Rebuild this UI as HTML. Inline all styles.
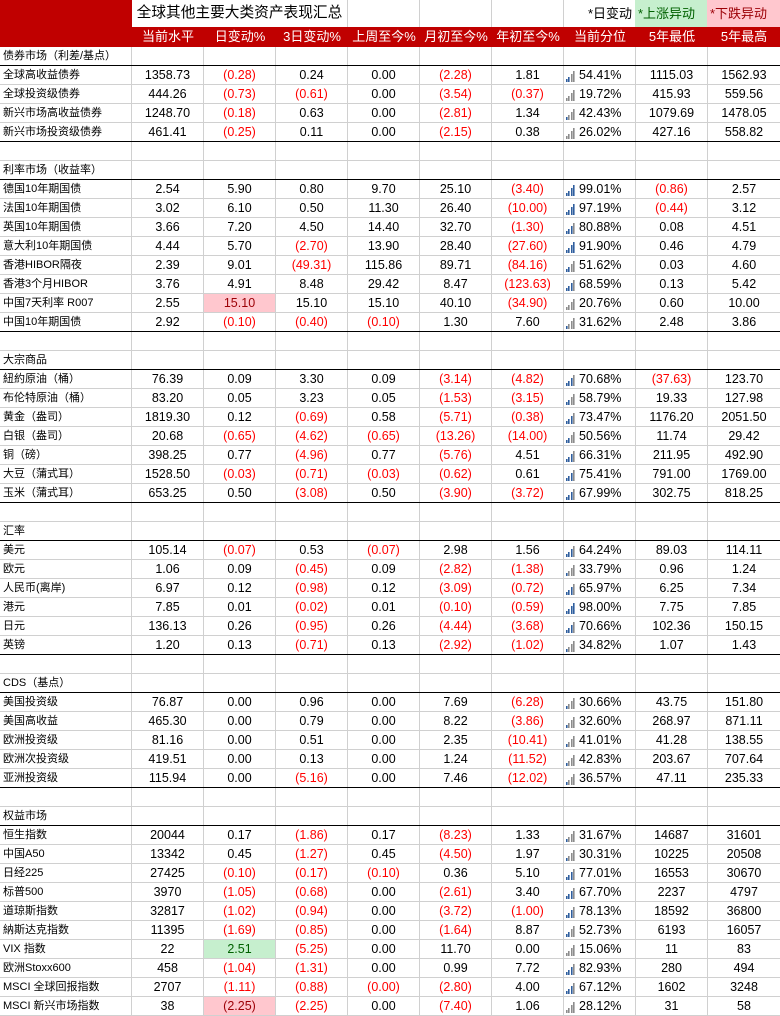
<!DOCTYPE html>
<html><head><meta charset="utf-8">
<style>
*{margin:0;padding:0;box-sizing:border-box}
body{width:780px;height:1016px;overflow:hidden;background:#fff;font-family:"Liberation Sans","Noto Sans CJK SC",sans-serif;color:#000;position:relative}
.top{position:absolute;left:0;top:0;width:780px;height:27px}
.top div{position:absolute;top:0;height:27px;line-height:27px;white-space:nowrap}
.vl{width:1px;background:#d0d0d0}
.hd{position:absolute;left:0;top:27px;width:780px;height:20px;background:#C00000;display:flex}
.hd div{width:72px;color:#fff;text-align:center;font-size:13px;line-height:20px;white-space:nowrap;font-family:"Liberation Sans","Noto Sans CJK SC",sans-serif}
.hd div:first-child{width:132px}
.body{position:absolute;left:0;top:47px;width:780px}
.r{display:flex;height:19px;border-bottom:1px solid #d0d0d0}
.r.b{border-bottom:1px solid #000}
.r>div{width:72px;border-right:1px solid #d0d0d0;text-align:center;font-size:12.5px;line-height:18px;white-space:nowrap;position:relative}
.r>div:first-child{width:132px;text-align:left;padding-left:3px;font-size:11px}
.r>div:last-child{border-right:none}
.n{color:#FF0000}
.pk{background:#FFC7CE;color:#9C0006!important}
.gr{background:#C6EFCE;color:#006100}
.p{text-align:left!important;padding-left:15px;--a:#8c8c8c;--b:#8c8c8c;--c:#8c8c8c;--d:#8c8c8c}
.p::before{content:"";position:absolute;left:2px;top:5px;width:9px;height:11px;
background-image:linear-gradient(var(--a),var(--a)),linear-gradient(var(--b),var(--b)),linear-gradient(var(--c),var(--c)),linear-gradient(var(--d),var(--d));
background-size:1.6px 3px,1.6px 5.5px,1.6px 8px,1.6px 11px;
background-position:0px 100%,2.45px 100%,4.9px 100%,7.4px 100%;background-repeat:no-repeat}
.q1{--a:#2F5E9E}
.q2{--a:#2F5E9E;--b:#2F5E9E}
.q3{--a:#2F5E9E;--b:#2F5E9E;--c:#2F5E9E}
.q4{--a:#2F5E9E;--b:#2F5E9E;--c:#2F5E9E;--d:#2F5E9E}
</style></head><body>

<div class="top">
  <div style="left:0;width:132px;background:#C00000"></div>
  <div style="left:132px;width:215px;text-align:center;font-size:14.7px">全球其他主要大类资产表现汇总</div>
  <div class="vl" style="left:347px"></div>
  <div class="vl" style="left:419px"></div>
  <div class="vl" style="left:491px"></div>
  <div class="vl" style="left:563px"></div>
  <div style="left:564px;width:71px;text-align:right;padding-right:3px;font-size:13px">*日变动</div>
  <div style="left:635px;width:72px;background:#C6EFCE;color:#006100;padding-left:3px;font-size:13px">*上涨异动</div>
  <div style="left:707px;width:73px;background:#FFC7CE;color:#9C0006;padding-left:3px;font-size:13px">*下跌异动</div>
</div>

<div class="hd">
  <div></div><div>当前水平</div><div>日变动%</div><div>3日变动%</div><div>上周至今%</div><div>月初至今%</div><div>年初至今%</div><div>当前分位</div><div>5年最低</div><div>5年最高</div>
</div>

<div class="body">
<div class="r b"><div>债券市场（利差/基点）</div><div></div><div></div><div></div><div></div><div></div><div></div><div></div><div></div><div></div></div>
<div class="r"><div>全球高收益债券</div><div>1358.73</div><div class="n">(0.28)</div><div>0.24</div><div>0.00</div><div class="n">(2.28)</div><div>1.81</div><div class="p q2">54.41%</div><div>1115.03</div><div>1562.93</div></div>
<div class="r"><div>全球投资级债券</div><div>444.26</div><div class="n">(0.73)</div><div class="n">(0.61)</div><div>0.00</div><div class="n">(3.54)</div><div class="n">(0.37)</div><div class="p q0">19.72%</div><div>415.93</div><div>559.56</div></div>
<div class="r"><div>新兴市场高收益债券</div><div>1248.70</div><div class="n">(0.18)</div><div>0.63</div><div>0.00</div><div class="n">(2.81)</div><div>1.34</div><div class="p q1">42.43%</div><div>1079.69</div><div>1478.05</div></div>
<div class="r b"><div>新兴市场投资级债券</div><div>461.41</div><div class="n">(0.25)</div><div>0.11</div><div>0.00</div><div class="n">(2.15)</div><div>0.38</div><div class="p q0">26.02%</div><div>427.16</div><div>558.82</div></div>
<div class="r"><div></div><div></div><div></div><div></div><div></div><div></div><div></div><div></div><div></div><div></div></div>
<div class="r b"><div>利率市场（收益率）</div><div></div><div></div><div></div><div></div><div></div><div></div><div></div><div></div><div></div></div>
<div class="r"><div>德国10年期国债</div><div>2.54</div><div>5.90</div><div>0.80</div><div>9.70</div><div>25.10</div><div class="n">(3.40)</div><div class="p q4">99.01%</div><div class="n">(0.86)</div><div>2.57</div></div>
<div class="r"><div>法国10年期国债</div><div>3.02</div><div>6.10</div><div>0.50</div><div>11.30</div><div>26.40</div><div class="n">(10.00)</div><div class="p q4">97.19%</div><div class="n">(0.44)</div><div>3.12</div></div>
<div class="r"><div>英国10年期国债</div><div>3.66</div><div>7.20</div><div>4.50</div><div>14.40</div><div>32.70</div><div class="n">(1.30)</div><div class="p q3">80.88%</div><div>0.08</div><div>4.51</div></div>
<div class="r"><div>意大利10年期国债</div><div>4.44</div><div>5.70</div><div class="n">(2.70)</div><div>13.90</div><div>28.40</div><div class="n">(27.60)</div><div class="p q4">91.90%</div><div>0.46</div><div>4.79</div></div>
<div class="r"><div>香港HIBOR隔夜</div><div>2.39</div><div>9.01</div><div class="n">(49.31)</div><div>115.86</div><div>89.71</div><div class="n">(84.16)</div><div class="p q2">51.62%</div><div>0.03</div><div>4.60</div></div>
<div class="r"><div>香港3个月HIBOR</div><div>3.76</div><div>4.91</div><div>8.48</div><div>29.42</div><div>8.47</div><div class="n">(123.63)</div><div class="p q3">68.59%</div><div>0.13</div><div>5.42</div></div>
<div class="r"><div>中国7天利率 R007</div><div>2.55</div><div class="pk">15.10</div><div>15.10</div><div>15.10</div><div>40.10</div><div class="n">(34.90)</div><div class="p q0">20.76%</div><div>0.60</div><div>10.00</div></div>
<div class="r b"><div>中国10年期国债</div><div>2.92</div><div class="n">(0.10)</div><div class="n">(0.40)</div><div class="n">(0.10)</div><div>1.30</div><div>7.60</div><div class="p q1">31.62%</div><div>2.48</div><div>3.86</div></div>
<div class="r"><div></div><div></div><div></div><div></div><div></div><div></div><div></div><div></div><div></div><div></div></div>
<div class="r b"><div>大宗商品</div><div></div><div></div><div></div><div></div><div></div><div></div><div></div><div></div><div></div></div>
<div class="r"><div>紐約原油（桶）</div><div>76.39</div><div>0.09</div><div>3.30</div><div>0.09</div><div class="n">(3.14)</div><div class="n">(4.82)</div><div class="p q3">70.68%</div><div class="n">(37.63)</div><div>123.70</div></div>
<div class="r"><div>布伦特原油（桶）</div><div>83.20</div><div>0.05</div><div>3.23</div><div>0.05</div><div class="n">(1.53)</div><div class="n">(3.15)</div><div class="p q2">58.79%</div><div>19.33</div><div>127.98</div></div>
<div class="r"><div>黄金（盎司）</div><div>1819.30</div><div>0.12</div><div class="n">(0.69)</div><div>0.58</div><div class="n">(5.71)</div><div class="n">(0.38)</div><div class="p q3">73.47%</div><div>1176.20</div><div>2051.50</div></div>
<div class="r"><div>白银（盎司）</div><div>20.68</div><div class="n">(0.65)</div><div class="n">(4.62)</div><div class="n">(0.65)</div><div class="n">(13.26)</div><div class="n">(14.00)</div><div class="p q2">50.56%</div><div>11.74</div><div>29.42</div></div>
<div class="r"><div>铜（磅）</div><div>398.25</div><div>0.77</div><div class="n">(4.96)</div><div>0.77</div><div class="n">(5.76)</div><div>4.51</div><div class="p q3">66.31%</div><div>211.95</div><div>492.90</div></div>
<div class="r"><div>大豆（蒲式耳）</div><div>1528.50</div><div class="n">(0.03)</div><div class="n">(0.71)</div><div class="n">(0.03)</div><div class="n">(0.62)</div><div>0.61</div><div class="p q3">75.41%</div><div>791.00</div><div>1769.00</div></div>
<div class="r b"><div>玉米（蒲式耳）</div><div>653.25</div><div>0.50</div><div class="n">(3.08)</div><div>0.50</div><div class="n">(3.90)</div><div class="n">(3.72)</div><div class="p q3">67.99%</div><div>302.75</div><div>818.25</div></div>
<div class="r"><div></div><div></div><div></div><div></div><div></div><div></div><div></div><div></div><div></div><div></div></div>
<div class="r b"><div>汇率</div><div></div><div></div><div></div><div></div><div></div><div></div><div></div><div></div><div></div></div>
<div class="r"><div>美元</div><div>105.14</div><div class="n">(0.07)</div><div>0.53</div><div class="n">(0.07)</div><div>2.98</div><div>1.56</div><div class="p q3">64.24%</div><div>89.03</div><div>114.11</div></div>
<div class="r"><div>欧元</div><div>1.06</div><div>0.09</div><div class="n">(0.45)</div><div>0.09</div><div class="n">(2.82)</div><div class="n">(1.38)</div><div class="p q1">33.79%</div><div>0.96</div><div>1.24</div></div>
<div class="r"><div>人民币(离岸)</div><div>6.97</div><div>0.12</div><div class="n">(0.98)</div><div>0.12</div><div class="n">(3.09)</div><div class="n">(0.72)</div><div class="p q3">65.97%</div><div>6.25</div><div>7.34</div></div>
<div class="r"><div>港元</div><div>7.85</div><div>0.01</div><div class="n">(0.02)</div><div>0.01</div><div class="n">(0.10)</div><div class="n">(0.59)</div><div class="p q4">98.00%</div><div>7.75</div><div>7.85</div></div>
<div class="r"><div>日元</div><div>136.13</div><div>0.26</div><div class="n">(0.95)</div><div>0.26</div><div class="n">(4.44)</div><div class="n">(3.68)</div><div class="p q3">70.66%</div><div>102.36</div><div>150.15</div></div>
<div class="r b"><div>英镑</div><div>1.20</div><div>0.13</div><div class="n">(0.71)</div><div>0.13</div><div class="n">(2.92)</div><div class="n">(1.02)</div><div class="p q1">34.82%</div><div>1.07</div><div>1.43</div></div>
<div class="r"><div></div><div></div><div></div><div></div><div></div><div></div><div></div><div></div><div></div><div></div></div>
<div class="r b"><div>CDS（基点）</div><div></div><div></div><div></div><div></div><div></div><div></div><div></div><div></div><div></div></div>
<div class="r"><div>美国投资级</div><div>76.87</div><div>0.00</div><div>0.96</div><div>0.00</div><div>7.69</div><div class="n">(6.28)</div><div class="p q1">30.66%</div><div>43.75</div><div>151.80</div></div>
<div class="r"><div>美国高收益</div><div>465.30</div><div>0.00</div><div>0.79</div><div>0.00</div><div>8.22</div><div class="n">(3.86)</div><div class="p q1">32.60%</div><div>268.97</div><div>871.11</div></div>
<div class="r"><div>欧洲投资级</div><div>81.16</div><div>0.00</div><div>0.51</div><div>0.00</div><div>2.35</div><div class="n">(10.41)</div><div class="p q1">41.01%</div><div>41.28</div><div>138.55</div></div>
<div class="r"><div>欧洲次投资级</div><div>419.51</div><div>0.00</div><div>0.13</div><div>0.00</div><div>1.24</div><div class="n">(11.52)</div><div class="p q1">42.83%</div><div>203.67</div><div>707.64</div></div>
<div class="r b"><div>亚洲投资级</div><div>115.94</div><div>0.00</div><div class="n">(5.16)</div><div>0.00</div><div>7.46</div><div class="n">(12.02)</div><div class="p q1">36.57%</div><div>47.11</div><div>235.33</div></div>
<div class="r"><div></div><div></div><div></div><div></div><div></div><div></div><div></div><div></div><div></div><div></div></div>
<div class="r b"><div>权益市场</div><div></div><div></div><div></div><div></div><div></div><div></div><div></div><div></div><div></div></div>
<div class="r"><div>恒生指数</div><div>20044</div><div>0.17</div><div class="n">(1.86)</div><div>0.17</div><div class="n">(8.23)</div><div>1.33</div><div class="p q1">31.67%</div><div>14687</div><div>31601</div></div>
<div class="r"><div>中国A50</div><div>13342</div><div>0.45</div><div class="n">(1.27)</div><div>0.45</div><div class="n">(4.50)</div><div>1.97</div><div class="p q1">30.31%</div><div>10225</div><div>20508</div></div>
<div class="r"><div>日经225</div><div>27425</div><div class="n">(0.10)</div><div class="n">(0.17)</div><div class="n">(0.10)</div><div>0.36</div><div>5.10</div><div class="p q3">77.01%</div><div>16553</div><div>30670</div></div>
<div class="r"><div>标普500</div><div>3970</div><div class="n">(1.05)</div><div class="n">(0.68)</div><div>0.00</div><div class="n">(2.61)</div><div>3.40</div><div class="p q3">67.70%</div><div>2237</div><div>4797</div></div>
<div class="r"><div>道琼斯指数</div><div>32817</div><div class="n">(1.02)</div><div class="n">(0.94)</div><div>0.00</div><div class="n">(3.72)</div><div class="n">(1.00)</div><div class="p q3">78.13%</div><div>18592</div><div>36800</div></div>
<div class="r"><div>納斯达克指数</div><div>11395</div><div class="n">(1.69)</div><div class="n">(0.85)</div><div>0.00</div><div class="n">(1.64)</div><div>8.87</div><div class="p q2">52.73%</div><div>6193</div><div>16057</div></div>
<div class="r"><div>VIX 指数</div><div>22</div><div class="gr">2.51</div><div class="n">(5.25)</div><div>0.00</div><div>11.70</div><div>0.00</div><div class="p q0">15.06%</div><div>11</div><div>83</div></div>
<div class="r"><div>欧洲Stoxx600</div><div>458</div><div class="n">(1.04)</div><div class="n">(1.31)</div><div>0.00</div><div>0.99</div><div>7.72</div><div class="p q3">82.93%</div><div>280</div><div>494</div></div>
<div class="r"><div>MSCI 全球回报指数</div><div>2707</div><div class="n">(1.11)</div><div class="n">(0.88)</div><div class="n">(0.00)</div><div class="n">(2.80)</div><div>4.00</div><div class="p q3">67.12%</div><div>1602</div><div>3248</div></div>
<div class="r"><div>MSCI 新兴市场指数</div><div>38</div><div class="pk">(2.25)</div><div class="n">(2.25)</div><div>0.00</div><div class="n">(7.40)</div><div>1.06</div><div class="p q0">28.12%</div><div>31</div><div>58</div></div>
</div>
</body></html>
